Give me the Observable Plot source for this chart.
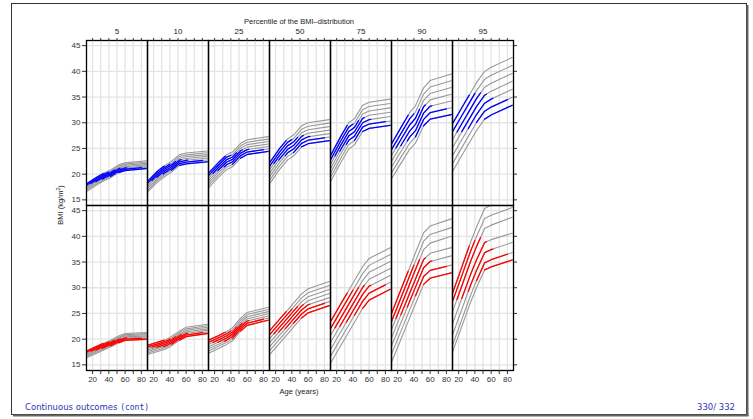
<!DOCTYPE html>
<html>
<head>
<meta charset="utf-8">
<script src="https://cdn.jsdelivr.net/npm/d3@7"></script>
<script src="https://cdn.jsdelivr.net/npm/@observablehq/plot@0.6"></script>
<style>
  html, body { margin: 0; padding: 0; background: #fff; }
  #chart { width: 753px; height: 419px; }
  svg { font-family: "Liberation Sans", Arial, sans-serif; }
</style>
</head>
<body>
<div id="chart"></div>
<script>
// ---- data ----
const percentiles = ["5", "10", "25", "50", "75", "90", "95"];
const sexes = ["men", "women"];
const ages = [12.5, 25, 35, 42, 52, 60, 86];
const xTicks = [20, 30, 40, 50, 60, 70, 80];
const yTicks = [15, 20, 25, 30, 35, 40, 45];
// age window where each curve is coloured (observed range), curve 0 = top curve
const colorFrom = [12.5, 12.5, 18, 24, 32, 42, 52];
const colorTo = [33, 40, 47, 54, 62, 80, 86];

// men (blue row): 7 curves per percentile, values at `ages`
const men5 = [
  [18.1, 19.4, 20.3, 20.8, 21.8, 22.2, 22.6],
  [17.85, 19.15, 20.05, 20.55, 21.55, 21.95, 22.35],
  [17.6, 18.9, 19.8, 20.3, 21.3, 21.7, 22.1],
  [17.35, 18.65, 19.55, 20.05, 21.05, 21.45, 21.85],
  [17.1, 18.4, 19.3, 19.8, 20.8, 21.2, 21.6],
  [16.85, 18.15, 19.05, 19.55, 20.55, 20.95, 21.35],
  [16.6, 17.9, 18.8, 19.3, 20.3, 20.7, 21.1]];
const men10 = [
  [18.6, 20.6, 21.8, 22.5, 23.8, 24.1, 24.5],
  [18.25, 20.25, 21.45, 22.15, 23.45, 23.75, 24.15],
  [17.9, 19.9, 21.1, 21.8, 23.1, 23.4, 23.8],
  [17.55, 19.55, 20.75, 21.45, 22.75, 23.05, 23.45],
  [17.2, 19.2, 20.4, 21.1, 22.4, 22.7, 23.1],
  [16.85, 18.85, 20.05, 20.75, 22.05, 22.35, 22.75],
  [16.5, 18.5, 19.7, 20.4, 21.7, 22.0, 22.4]];
const men25 = [
  [20.2, 22.3, 23.8, 24.3, 26.0, 26.7, 27.3],
  [19.72, 21.82, 23.32, 23.82, 25.52, 26.22, 26.82],
  [19.24, 21.34, 22.84, 23.34, 25.04, 25.74, 26.34],
  [18.76, 20.86, 22.36, 22.86, 24.56, 25.26, 25.86],
  [18.28, 20.38, 21.88, 22.38, 24.08, 24.78, 25.38],
  [17.8, 19.9, 21.4, 21.9, 23.6, 24.3, 24.9],
  [17.32, 19.42, 20.92, 21.42, 23.12, 23.82, 24.42]];
const men50 = [
  [22.2, 25.0, 26.9, 27.6, 29.4, 30.0, 30.6],
  [21.52, 24.32, 26.22, 26.92, 28.72, 29.32, 29.92],
  [20.84, 23.64, 25.54, 26.24, 28.04, 28.64, 29.24],
  [20.16, 22.96, 24.86, 25.56, 27.36, 27.96, 28.56],
  [19.48, 22.28, 24.18, 24.88, 26.68, 27.28, 27.88],
  [18.8, 21.6, 23.5, 24.2, 26.0, 26.6, 27.2],
  [18.12, 20.92, 22.82, 23.52, 25.32, 25.92, 26.52]];
const men75 = [
  [23.6, 27.3, 30.0, 30.8, 33.4, 34.0, 34.6],
  [22.75, 26.45, 29.15, 29.95, 32.55, 33.15, 33.75],
  [21.9, 25.6, 28.3, 29.1, 31.7, 32.3, 32.9],
  [21.05, 24.75, 27.45, 28.25, 30.85, 31.45, 32.05],
  [20.2, 23.9, 26.6, 27.4, 30.0, 30.6, 31.2],
  [19.35, 23.05, 25.75, 26.55, 29.15, 29.75, 30.35],
  [18.5, 22.2, 24.9, 25.7, 28.3, 28.9, 29.5]];
const men90 = [
  [25.9, 29.3, 32.0, 33.3, 36.8, 38.2, 39.5],
  [24.77, 28.14, 30.81, 32.09, 35.57, 36.95, 38.18],
  [23.64, 26.98, 29.62, 30.88, 34.34, 35.7, 36.86],
  [22.51, 25.82, 28.43, 29.67, 33.11, 34.45, 35.54],
  [21.38, 24.66, 27.24, 28.46, 31.88, 33.2, 34.22],
  [20.25, 23.5, 26.05, 27.25, 30.65, 31.95, 32.9],
  [19.12, 22.34, 24.86, 26.04, 29.42, 30.7, 31.58]];
const men95 = [
  [29.8, 33.2, 35.9, 37.8, 40.0, 40.8, 42.7],
  [28.25, 31.65, 34.35, 36.25, 38.45, 39.25, 41.15],
  [26.7, 30.1, 32.8, 34.7, 36.9, 37.7, 39.6],
  [25.15, 28.55, 31.25, 33.15, 35.35, 36.15, 38.05],
  [23.6, 27.0, 29.7, 31.6, 33.8, 34.6, 36.5],
  [22.05, 25.45, 28.15, 30.05, 32.25, 33.05, 34.95],
  [20.5, 23.9, 26.6, 28.5, 30.7, 31.5, 33.4]];

// women (red row)
const women5 = [
  [17.7, 18.6, 19.3, 19.8, 20.6, 21.1, 21.3],
  [17.48, 18.38, 19.08, 19.58, 20.38, 20.88, 21.08],
  [17.26, 18.16, 18.86, 19.36, 20.16, 20.66, 20.86],
  [17.04, 17.94, 18.64, 19.14, 19.94, 20.44, 20.64],
  [16.82, 17.72, 18.42, 18.92, 19.72, 20.22, 20.42],
  [16.6, 17.5, 18.2, 18.7, 19.5, 20.0, 20.2],
  [16.38, 17.28, 17.98, 18.48, 19.28, 19.78, 19.98]];
const women10 = [
  [18.8, 19.4, 19.9, 20.5, 21.6, 22.3, 22.9],
  [18.5, 19.1, 19.6, 20.2, 21.3, 22.0, 22.6],
  [18.2, 18.8, 19.3, 19.9, 21.0, 21.7, 22.3],
  [17.9, 18.5, 19.0, 19.6, 20.7, 21.4, 22.0],
  [17.6, 18.2, 18.7, 19.3, 20.4, 21.1, 21.7],
  [17.3, 17.9, 18.4, 19.0, 20.1, 20.8, 21.4],
  [17.0, 17.6, 18.1, 18.7, 19.8, 20.5, 21.1]];
const women25 = [
  [19.8, 20.7, 21.5, 22.2, 24.1, 25.2, 26.2],
  [19.38, 20.28, 21.08, 21.78, 23.68, 24.78, 25.78],
  [18.96, 19.86, 20.66, 21.36, 23.26, 24.36, 25.36],
  [18.54, 19.44, 20.24, 20.94, 22.84, 23.94, 24.94],
  [18.12, 19.02, 19.82, 20.52, 22.42, 23.52, 24.52],
  [17.7, 18.6, 19.4, 20.1, 22.0, 23.1, 24.1],
  [17.28, 18.18, 18.98, 19.68, 21.58, 22.68, 23.68]];
const women50 = [
  [21.6, 23.9, 25.7, 27.0, 28.8, 29.8, 31.2],
  [20.82, 23.12, 24.92, 26.22, 28.02, 29.02, 30.42],
  [20.04, 22.34, 24.14, 25.44, 27.24, 28.24, 29.64],
  [19.26, 21.56, 23.36, 24.66, 26.46, 27.46, 28.86],
  [18.48, 20.78, 22.58, 23.88, 25.68, 26.68, 28.08],
  [17.7, 20.0, 21.8, 23.1, 24.9, 25.9, 27.3],
  [16.92, 19.22, 21.02, 22.32, 24.12, 25.12, 26.52]];
const women75 = [
  [23.4, 26.8, 29.5, 31.4, 34.1, 35.7, 37.8],
  [22.05, 25.45, 28.15, 30.05, 32.75, 34.35, 36.45],
  [20.7, 24.1, 26.8, 28.7, 31.4, 33.0, 35.1],
  [19.35, 22.75, 25.45, 27.35, 30.05, 31.65, 33.75],
  [18.0, 21.4, 24.1, 26.0, 28.7, 30.3, 32.4],
  [16.65, 20.05, 22.75, 24.65, 27.35, 28.95, 31.05],
  [15.3, 18.7, 21.4, 23.3, 26.0, 27.6, 29.7]];
const women90 = [
  [25.0, 30.0, 34.0, 36.8, 40.7, 42.0, 43.4],
  [23.42, 28.4, 32.38, 35.17, 39.06, 40.34, 41.7],
  [21.83, 26.79, 30.76, 33.54, 37.41, 38.68, 40.0],
  [20.25, 25.11, 28.99, 31.71, 35.49, 36.7, 37.8],
  [18.67, 23.52, 27.4, 30.12, 33.9, 35.11, 36.2],
  [17.08, 21.9, 25.75, 28.45, 32.2, 33.38, 34.4],
  [15.5, 20.33, 24.19, 26.9, 30.66, 31.85, 32.9]];
const women95 = [
  [28.9, 34.5, 39.0, 41.8, 45.4, 46.1, 47.8],
  [27.3, 32.8, 37.22, 39.96, 43.48, 44.11, 45.6],
  [25.3, 30.81, 35.25, 38.0, 41.53, 42.18, 43.7],
  [23.0, 28.38, 32.7, 35.38, 38.8, 39.36, 40.6],
  [20.8, 26.25, 30.62, 33.34, 36.82, 37.42, 38.8],
  [18.8, 24.26, 28.64, 31.36, 34.84, 35.45, 36.85],
  [17.5, 22.93, 27.29, 30.0, 33.46, 34.05, 35.4]];

const menCurves = [men5, men10, men25, men50, men75, men90, men95];
const womenCurves = [women5, women10, women25, women50, women75, women90, women95];

// ---- build tables ----
function valueAt(vals, a) {
  let j = d3.bisectRight(ages, a) - 1;
  if (j < 0) j = 0;
  if (j >= ages.length - 1) return vals[vals.length - 1];
  const t = (a - ages[j]) / (ages[j + 1] - ages[j]);
  return vals[j] + t * (vals[j + 1] - vals[j]);
}
const grayRows = [];
const colorRows = [];
sexes.forEach((sex, r) => {
  const set = r === 0 ? menCurves : womenCurves;
  percentiles.forEach((p, k) => {
    set[k].forEach((vals, i) => {
      const id = sex + "-" + p + "-" + i;
      vals.forEach((v, j) => grayRows.push({sex, pct: p, id, age: ages[j], bmi: v}));
      const lo = colorFrom[i], hi = colorTo[i];
      const pts = [lo, ...ages.filter(a => a > lo && a < hi), hi];
      pts.forEach(a => colorRows.push({sex, pct: p, id, age: a, bmi: valueAt(vals, a)}));
    });
  });
});

const chart = Plot.plot({
  width: 753,
  height: 419,
  marginLeft: 83,
  marginRight: 238,
  marginTop: 40,
  marginBottom: 49,
  style: {fontFamily: "'Liberation Sans', Arial, sans-serif", background: "transparent"},
  x: {domain: [12.5, 87.5]},
  y: {domain: [13.9, 46]},
  fx: {domain: percentiles, padding: 0},
  fy: {domain: sexes, padding: 0, axis: null},
  marks: [
    Plot.gridX({ticks: xTicks, stroke: "#e4e4e4", strokeOpacity: 1, strokeWidth: 1.3}),
    Plot.gridY({ticks: yTicks, stroke: "#e4e4e4", strokeOpacity: 1, strokeWidth: 1.3}),
    Plot.line(grayRows, {x: "age", y: "bmi", z: "id", fx: "pct", fy: "sex", stroke: "#999999", strokeWidth: 1.1, clip: true}),
    Plot.line(colorRows.filter(d => d.sex === "men"), {x: "age", y: "bmi", z: "id", fx: "pct", fy: "sex", stroke: "#0000ff", strokeWidth: 1.3, clip: true}),
    Plot.line(colorRows.filter(d => d.sex === "women"), {x: "age", y: "bmi", z: "id", fx: "pct", fy: "sex", stroke: "#ff0000", strokeWidth: 1.3, clip: true}),
    Plot.frame({stroke: "#000", strokeWidth: 1.3}),
    Plot.axisY({ticks: yTicks, tickSize: 4, tickPadding: 2, fontSize: 8, label: null, color: "#333"}),
    Plot.axisY({anchor: "right", ticks: yTicks, tickSize: 3, tickFormat: () => "", label: null, color: "#333"}),
    Plot.axisX({ticks: xTicks, tickSize: 4, tickPadding: 2, fontSize: 8, label: null, color: "#333",
      tickFormat: d => (d % 20 === 0 ? String(d) : "")}),
    Plot.axisX({anchor: "top", ticks: xTicks, tickSize: 3, tickFormat: () => "", label: null, color: "#333"}),
    Plot.axisFx({anchor: "top", tickSize: 0, tickPadding: 7, fontSize: 8, label: null, color: "#222"})
  ]
});
document.getElementById("chart").appendChild(chart);

const svg = d3.select(chart);
const font = "'Liberation Sans', Arial, sans-serif";
svg.append("text").attr("x", 299).attr("y", 24).attr("text-anchor", "middle")
  .attr("font-size", 7.5).attr("font-family", font).attr("fill", "#222")
  .text("Percentile of the BMI\u2013distribution");
svg.append("text").attr("transform", "translate(63,205) rotate(-90)").attr("text-anchor", "middle")
  .attr("font-size", 7.5).attr("font-family", font).attr("fill", "#222")
  .html("BMI (kg/m<tspan dy='-3' font-size='5'>2</tspan><tspan dy='3'>)</tspan>");
svg.append("text").attr("x", 299).attr("y", 394).attr("text-anchor", "middle")
  .attr("font-size", 7.5).attr("font-family", font).attr("fill", "#222")
  .text("Age (years)");
// slide footer + frame
const foot = svg.append("text").attr("x", 25).attr("y", 410).attr("text-anchor", "start").attr("font-size", 8.5)
  .attr("font-family", "'DejaVu Sans', sans-serif").attr("fill", "#3333b3");
foot.append("tspan").text("Continuous outcomes ");
foot.append("tspan").attr("font-family", "'DejaVu Sans Mono', monospace").attr("font-size", 8).text("(cont)");
svg.append("text").attr("x", 735).attr("y", 410).attr("text-anchor", "end").attr("font-size", 8.5)
  .attr("font-family", "'DejaVu Sans', sans-serif").attr("fill", "#3333b3").text("330/ 332");
svg.append("rect").attr("x", 11.5).attr("y", 3.5).attr("width", 735).attr("height", 411)
  .attr("fill", "none").attr("stroke", "#333").attr("stroke-width", 1);
svg.append("line").attr("x1", 747.5).attr("x2", 747.5).attr("y1", 5).attr("y2", 416)
  .attr("stroke", "#666").attr("stroke-width", 2);
svg.append("line").attr("x1", 13).attr("x2", 748.5).attr("y1", 415.5).attr("y2", 415.5)
  .attr("stroke", "#666").attr("stroke-width", 2);
</script>
</body>
</html>
